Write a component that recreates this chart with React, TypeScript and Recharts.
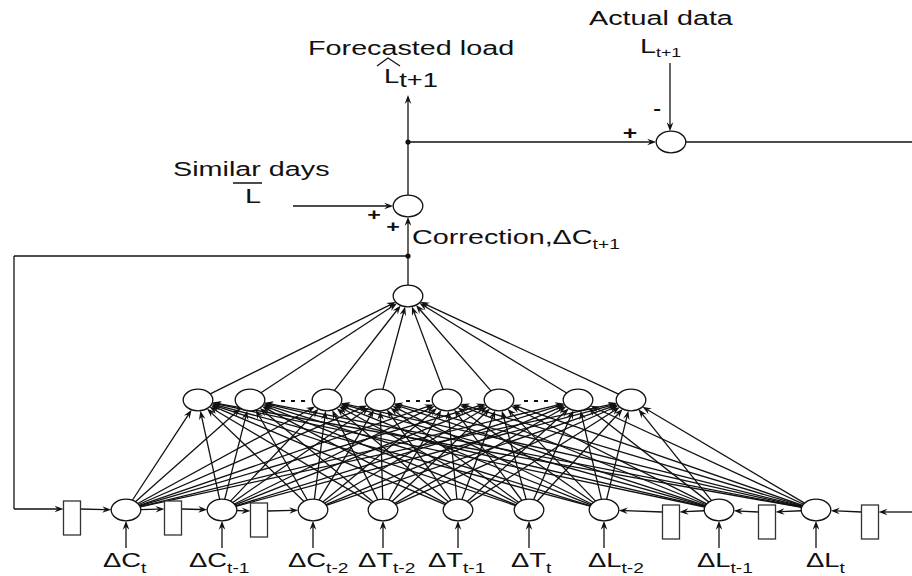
import { ReferenceLine, Scatter, ScatterChart, XAxis, YAxis } from 'recharts';

const FONT = '"Liberation Sans", Arial, sans-serif';
const INK = '#111';
// the source figure is stretched sideways, so text is widened to match
const SX = 1.37;

// input layer (bottom row)
const inputX = [126, 222, 313, 383, 458, 529, 604, 719, 816];
const inputY = 510;
const inputMain = ['ΔC', 'ΔC', 'ΔC', 'ΔT', 'ΔT', 'ΔT', 'ΔL', 'ΔL', 'ΔL'];
const inputSub = ['t', 't-1', 't-2', 't-2', 't-1', 't', 't-2', 't-1', 't'];
const inputLabelX = [103, 189, 288, 358, 428, 511, 588, 697, 806];
const inputLabelY = 567;
const inputFeedY = 548;

// hidden layer
const hiddenX = [198, 250, 327, 380, 447, 499, 578, 631];
const hiddenY = 400;
const ellipsisFrom = [281, 406, 524];
const ellipsisTo = [305, 430, 548];

// output + summing junctions
const outNode = { x: 408, y: 296 };
const sumNode = { x: 408, y: 206 };
const errNode = { x: 671, y: 142 };
const joints = [
  { x: 408, y: 256 },
  { x: 408, y: 142 },
];

// delay blocks
const delayX = [72, 173, 259, 671, 767, 870];
const delayY = [518, 518, 520, 522, 522, 522];
const chainY = [509, 509, 511, 512, 512, 512];

// loose ends of the signal lines
const feedbackX = 14;
const forecastTipY = 95;
const similarStart = { x: 293, y: 206 };
const actualStart = { x: 670, y: 63 };
const rightEdge = 912;

const notes = [
  { x: 308, y: 55, text: 'Forecasted load' },
  { x: 589, y: 25, text: 'Actual data' },
  { x: 640, y: 53, text: 'L', sub: 't+1', subSize: 13, subDy: 4 },
  { x: 384, y: 83, text: 'L', sub: 't+1', size: 20, subSize: 20, subDy: 4, mark: 'hat' },
  { x: 173, y: 176, text: 'Similar days' },
  { x: 245, y: 203, text: 'L', mark: 'bar' },
  { x: 412, y: 244, text: 'Correction,ΔC', sub: 't+1', subSize: 14, subDy: 5 },
  { x: 374, y: 220, text: '+', size: 17, weight: 700, anchor: 'middle' },
  { x: 393, y: 232, text: '+', size: 17, weight: 700, anchor: 'middle' },
  { x: 630, y: 139, text: '+', size: 18, weight: 700, anchor: 'middle' },
  { x: 657, y: 114, text: '-', size: 17, weight: 700, anchor: 'middle' },
];

const NODE: [number, number] = [14.8, 10.8];

type Pt = { x: number; y: number };
type Edge = { a: Pt; b: Pt; ra?: [number, number]; rb?: [number, number]; head?: boolean };

const edges: Edge[] = [];
inputX.forEach((ix) =>
  hiddenX.forEach((hx) =>
    edges.push({ a: { x: ix, y: inputY }, b: { x: hx, y: hiddenY }, ra: NODE, rb: NODE, head: true }),
  ),
);
hiddenX.forEach((hx) => edges.push({ a: { x: hx, y: hiddenY }, b: outNode, ra: NODE, rb: NODE, head: true }));
edges.push({ a: outNode, b: sumNode, ra: NODE, rb: NODE, head: true });
edges.push({ a: sumNode, b: { x: sumNode.x, y: forecastTipY }, ra: NODE, head: true });
edges.push({ a: joints[1], b: errNode, rb: NODE, head: true });
edges.push({ a: errNode, b: { x: rightEdge, y: errNode.y }, ra: NODE });
edges.push({ a: actualStart, b: { x: actualStart.x, y: errNode.y }, rb: NODE, head: true });
edges.push({ a: similarStart, b: sumNode, rb: NODE, head: true });
// feedback loop back to the first delay block
edges.push({ a: joints[0], b: { x: feedbackX, y: joints[0].y } });
edges.push({ a: { x: feedbackX, y: joints[0].y }, b: { x: feedbackX, y: chainY[0] } });
edges.push({ a: { x: feedbackX, y: chainY[0] }, b: { x: delayX[0] - 8.5, y: chainY[0] }, head: true });
// left delay chain
[0, 1, 2].forEach((k) => {
  edges.push({ a: { x: delayX[k] + 8.5, y: chainY[k] }, b: { x: inputX[k], y: inputY }, rb: NODE, head: true });
  if (k < 2)
    edges.push({ a: { x: inputX[k], y: inputY }, b: { x: delayX[k + 1] - 8.5, y: chainY[k + 1] }, ra: NODE, head: true });
});
// right delay chain (runs leftwards)
edges.push({ a: { x: rightEdge, y: chainY[5] }, b: { x: delayX[5] + 8.5, y: chainY[5] }, head: true });
[5, 4, 3].forEach((k) => {
  const node = k + 3;
  edges.push({ a: { x: delayX[k] - 8.5, y: chainY[k] }, b: { x: inputX[node], y: inputY }, rb: NODE, head: true });
  if (k > 3)
    edges.push({ a: { x: inputX[node], y: inputY }, b: { x: delayX[k - 1] + 8.5, y: chainY[k - 1] }, ra: NODE, head: true });
});
inputX.forEach((ix) => edges.push({ a: { x: ix, y: inputFeedY }, b: { x: ix, y: inputY }, rb: NODE, head: true }));

const nodePoints = [
  ...inputX.map((x) => ({ x, y: inputY })),
  ...hiddenX.map((x) => ({ x, y: hiddenY })),
  outNode,
  sumNode,
  errNode,
];
const delayPoints = delayX.map((x, i) => ({ x, y: delayY[i] }));
const inputLabels = inputX.map((_, i) => ({
  x: inputLabelX[i],
  y: inputLabelY,
  text: inputMain[i],
  sub: inputSub[i],
  size: 20,
  subSize: 14,
  subDy: 6,
}));

function trim(r: [number, number] | undefined, ux: number, uy: number) {
  if (!r) return 0;
  return 1 / Math.sqrt((ux / r[0]) ** 2 + (uy / r[1]) ** 2);
}

function edgeShape(e: Edge) {
  return (p: any) => {
    const { x1, y1, x2, y2 } = p;
    const dx = x2 - x1;
    const dy = y2 - y1;
    const len = Math.hypot(dx, dy) || 1;
    const ux = dx / len;
    const uy = dy / len;
    const s = trim(e.ra, ux, uy);
    const t = trim(e.rb, ux, uy);
    const sx = x1 + ux * s;
    const sy = y1 + uy * s;
    const ex = x2 - ux * t;
    const ey = y2 - uy * t;
    if (!e.head) {
      return <line x1={sx} y1={sy} x2={ex} y2={ey} stroke={INK} strokeWidth={1.3} />;
    }
    const L = 9;
    const W = 3.3;
    const bx = ex - ux * L;
    const by = ey - uy * L;
    const mx = ex - ux * L * 0.65;
    const my = ey - uy * L * 0.65;
    const nx = -uy;
    const ny = ux;
    return (
      <g>
        <line x1={sx} y1={sy} x2={mx} y2={my} stroke={INK} strokeWidth={1.3} />
        <path
          d={`M${ex},${ey} L${bx + nx * W},${by + ny * W} L${mx},${my} L${bx - nx * W},${by - ny * W} Z`}
          fill={INK}
        />
      </g>
    );
  };
}

function Words(p: any) {
  const { cx, cy, payload } = p;
  const { text, sub, size = 21, subSize = 14, subDy = 5, weight = 400, anchor = 'start', mark } = payload;
  return (
    <g>
      <g transform={`translate(${cx},${cy}) scale(${SX},1)`}>
        <text x={0} y={0} fontFamily={FONT} fontSize={size} fontWeight={weight} fill={INK} textAnchor={anchor}>
          {text}
          {sub ? (
            <tspan fontSize={subSize} dy={subDy}>
              {sub}
            </tspan>
          ) : null}
        </text>
      </g>
      {mark === 'hat' ? (
        <polyline
          points={`${cx - 7},${cy - 17} ${cx + 4},${cy - 25} ${cx + 16},${cy - 17}`}
          fill="none"
          stroke={INK}
          strokeWidth={1.3}
        />
      ) : null}
      {mark === 'bar' ? (
        <line x1={cx - 12} y1={cy - 20} x2={cx + 17} y2={cy - 20} stroke={INK} strokeWidth={1.5} />
      ) : null}
    </g>
  );
}

const Node = (p: any) => (
  <ellipse cx={p.cx} cy={p.cy} rx={NODE[0]} ry={NODE[1]} fill="#fff" stroke={INK} strokeWidth={1.3} />
);
const Delay = (p: any) => (
  <rect x={p.cx - 8.5} y={p.cy - 17} width={17} height={34} fill="#fff" stroke="#333" strokeWidth={1.3} />
);
const Joint = (p: any) => <circle cx={p.cx} cy={p.cy} r={2.6} fill={INK} />;

export default function App() {
  return (
    <div style={{ position: 'absolute', left: 0, top: 0, width: 912, height: 576, background: '#fff' }}>
      <ScatterChart width={912} height={576} margin={{ top: 0, right: 0, bottom: 0, left: 0 }}>
        <XAxis type="number" dataKey="x" domain={[0, 912]} hide />
        <YAxis type="number" dataKey="y" domain={[0, 576]} reversed hide />
        {edges.map((e, i) => (
          <ReferenceLine
            key={`e${i}`}
            segment={[e.a, e.b]}
            ifOverflow="visible"
            shape={edgeShape(e)}
          />
        ))}
        {ellipsisFrom.map((x, i) => (
          <ReferenceLine
            key={`d${i}`}
            segment={[
              { x, y: hiddenY + 1 },
              { x: ellipsisTo[i], y: hiddenY + 1 },
            ]}
            ifOverflow="visible"
            stroke={INK}
            strokeWidth={2.2}
            strokeDasharray="4 6"
          />
        ))}
        <Scatter data={nodePoints} shape={Node} isAnimationActive={false} />
        <Scatter data={delayPoints} shape={Delay} isAnimationActive={false} />
        <Scatter data={joints} shape={Joint} isAnimationActive={false} />
        <Scatter data={inputLabels} shape={Words} isAnimationActive={false} />
        <Scatter data={notes} shape={Words} isAnimationActive={false} />
      </ScatterChart>
    </div>
  );
}
